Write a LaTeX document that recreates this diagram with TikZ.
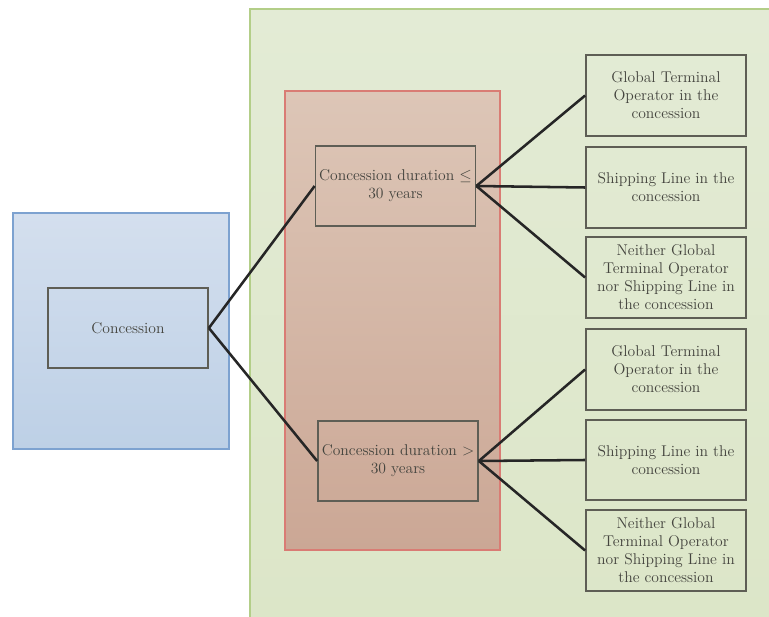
\documentclass[tikz,border=0pt]{standalone}
\usepackage{amsmath}
\usepackage{amssymb}
\usepackage{tikz}
\usepackage{xcolor}
\usetikzlibrary{arrows.meta}

\definecolor{greenbg}{HTML}{E3EBD5}
\definecolor{greenbgb}{HTML}{DCE6C8}
\definecolor{greenline}{HTML}{B3CE88}
\definecolor{bluebg}{HTML}{D4DFEE}
\definecolor{bluebgb}{HTML}{BDD0E6}
\definecolor{blueline}{HTML}{7DA2D0}
\definecolor{redbg}{HTML}{DDC6B7}
\definecolor{redbgb}{HTML}{CBA795}
\definecolor{redline}{HTML}{D97C74}
\definecolor{boxline}{HTML}{5E5E55}
\definecolor{boxtext}{HTML}{44443E}

\begin{document}
\begin{tikzpicture}[x=0.75pt,y=-0.75pt]
     \tikzstyle{box}=[draw=boxline,line width=1.3pt,rectangle,minimum width=120pt,minimum height=60.5pt,inner sep=2pt,align=center,text=boxtext,font=\fontsize{11.7}{13.5}\selectfont]
     \tikzstyle{edge} = [draw,line width=1.9pt,black!85]

     \useasboundingbox (0,0) rectangle (769,617);

     % background areas
     \shade[top color=greenbg,bottom color=greenbgb,draw=greenline,line width=1.2pt] (250,9) rectangle (772,620);
     \shade[top color=bluebg,bottom color=bluebgb,draw=blueline,line width=1pt] (13,213) rectangle (229,449);
     \shade[top color=redbg,bottom color=redbgb,draw=redline,line width=1.2pt] (285,91) rectangle (500,550);

     \node[box] (c) at (128,328) {Concession};
     \node[box] (d1) at (395.5,186) {Concession duration $\leq$\\30 years};
     \node[box] (d2) at (398,461) {Concession duration $>$\\30 years};

     \node[box] (u1) at (666,95.5) {Global Terminal\\Operator in the\\concession};
     \node[box] (u2) at (666,187.5) {Shipping Line in the\\concession};
     \node[box] (u3) at (666,277.5) {Neither Global\\Terminal Operator\\nor Shipping Line in\\the concession};
     \node[box] (l1) at (666,369.5) {Global Terminal\\Operator in the\\concession};
     \node[box] (l2) at (666,460) {Shipping Line in the\\concession};
     \node[box] (l3) at (666,550.5) {Neither Global\\Terminal Operator\\nor Shipping Line in\\the concession};

     \draw[edge] (c.east) -- (d1.west);
     \draw[edge] (c.east) -- (d2.west);
     \draw[edge] (d1.east) -- (u1.west);
     \draw[edge] (d1.east) -- (u2.west);
     \draw[edge] (d1.east) -- (u3.west);
     \draw[edge] (d2.east) -- (l1.west);
     \draw[edge] (d2.east) -- (l2.west);
     \draw[edge] (d2.east) -- (l3.west);
\end{tikzpicture}
\end{document}
